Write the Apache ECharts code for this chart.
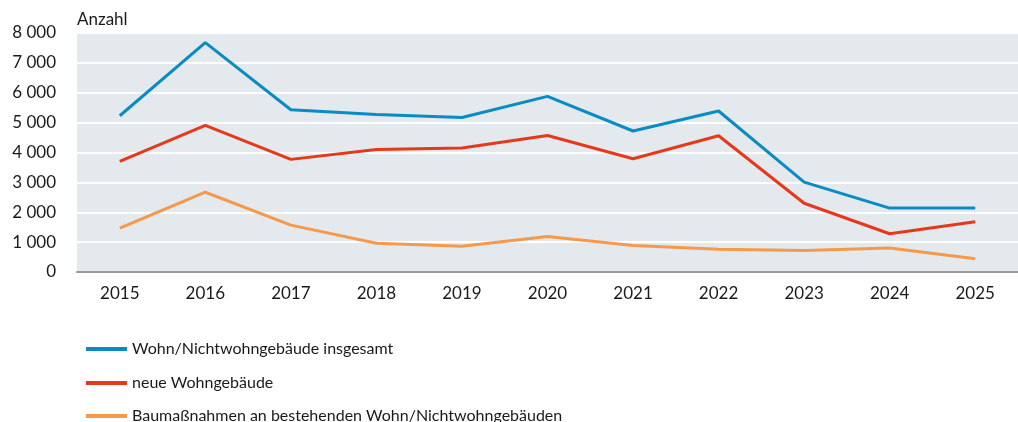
<!DOCTYPE html>
<html>
<head>
<meta charset="utf-8">
<script src="https://cdn.jsdelivr.net/npm/echarts@6/dist/echarts.min.js"></script>
<style>
  html, body { margin: 0; padding: 0; background: #fff; }
  #chart { width: 1018px; height: 422px; }
</style>
</head>
<body>
<div id="chart"></div>
<script>
const years = ['2015', '2016', '2017', '2018', '2019', '2020', '2021', '2022', '2023', '2024', '2025']
const insgesamt = [5230, 7680, 5430, 5270, 5170, 5880, 4720, 5390, 3010, 2140, 2140]
const neueWohngebaeude = [3700, 4910, 3770, 4100, 4150, 4570, 3790, 4560, 2300, 1280, 1680]
const baumassnahmen = [1470, 2670, 1570, 960, 860, 1190, 890, 760, 720, 800, 440]
const seriesNames = [
  'Wohn/Nichtwohngebäude insgesamt',
  'neue Wohngebäude',
  'Baumaßnahmen an bestehenden Wohn/Nichtwohngebäuden'
]

const font = 'Lato'
const textColor = '#1a1a1a'

const chart = echarts.init(document.getElementById('chart'))

function lineSeries(name, data, color) {
  return {
    name,
    type: 'line',
    data,
    symbol: 'none',
    lineStyle: { color, width: 3 },
    itemStyle: { color },
    z: 3
  }
}

// one legend per row, the last row runs into the bottom edge like the original
const legendTops = [335, 369, 402]
const legends = seriesNames.map((name, i) => ({
  left: 81,
  top: legendTops[i],
  itemWidth: 41,
  itemHeight: 4,
  icon: 'rect',
  textStyle: { fontFamily: font, fontSize: 16, color: textColor, lineHeight: 18 },
  data: [name]
}))

chart.setOption({
  animation: false,
  textStyle: { fontFamily: font },
  title: {
    text: 'Anzahl',
    left: 72,
    top: 6,
    textStyle: { fontFamily: font, fontSize: 17, fontWeight: 'normal', color: textColor }
  },
  grid: {
    left: 77,
    right: 0,
    top: 33,
    height: 239,
    backgroundColor: '#e4e9ee',
    show: true,
    borderWidth: 0
  },
  legend: legends,
  xAxis: {
    type: 'category',
    data: years,
    boundaryGap: true,
    axisLine: { lineStyle: { color: '#9a9a9a', width: 2 } },
    axisTick: { show: false },
    axisLabel: { color: textColor, fontSize: 17, margin: 13, fontFamily: font }
  },
  yAxis: {
    type: 'value',
    min: 0,
    max: 8000,
    interval: 1000,
    axisLine: { show: false },
    axisTick: { show: false },
    splitLine: { lineStyle: { color: '#ffffff', width: 2 } },
    axisLabel: {
      color: textColor,
      fontSize: 17,
      margin: 21,
      fontFamily: font,
      formatter: v => String(v).replace(/\B(?=(\d{3})+(?!\d))/g, ' ')
    }
  },
  series: [
    lineSeries(seriesNames[0], insgesamt, '#0a8bc3'),
    lineSeries(seriesNames[1], neueWohngebaeude, '#e6391c'),
    lineSeries(seriesNames[2], baumassnahmen, '#f7994a')
  ]
})
</script>
</body>
</html>
